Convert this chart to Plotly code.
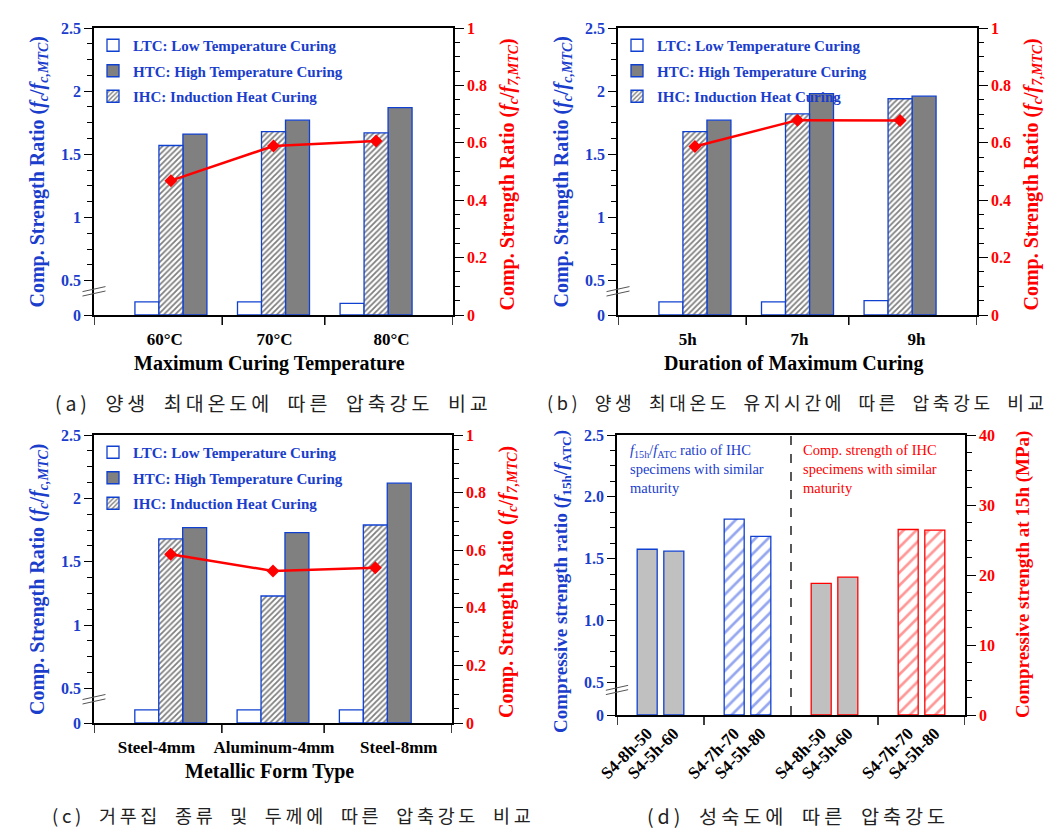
import plotly.graph_objects as go

# ---------------- data ----------------
temp_cats = ["60°C", "70°C", "80°C"]
a_ltc = [0.19, 0.19, 0.17]
a_ihc = [1.57, 1.68, 1.67]
a_htc = [1.66, 1.77, 1.87]
a_ratio = [0.468, 0.589, 0.606]

dur_cats = ["5h", "7h", "9h"]
b_ltc = [0.19, 0.19, 0.21]
b_ihc = [1.68, 1.82, 1.94]
b_htc = [1.77, 1.98, 1.96]
b_ratio = [0.587, 0.679, 0.678]

form_cats = ["Steel-4mm", "Aluminum-4mm", "Steel-8mm"]
c_ltc = [0.19, 0.19, 0.19]
c_ihc = [1.68, 1.23, 1.79]
c_htc = [1.77, 1.73, 2.12]
c_ratio = [0.586, 0.528, 0.539]

d_specimens = ["S4-8h-50", "S4-5h-60", "S4-7h-70", "S4-5h-80"]
d_ratio = [1.576, 1.56, 1.82, 1.68]
d_strength = [18.8, 19.7, 26.5, 26.4]

left_ticks_abc = ["0", "0.5", "1", "1.5", "2", "2.5"]
left_ticks_d = ["0", "0.5", "1.0", "1.5", "2.0", "2.5"]

caption_words = [["(a)", "양생", "최대온도에", "따른", "압축강도", "비교"],
                 ["(b)", "양생", "최대온도", "유지시간에", "따른", "압축강도", "비교"],
                 ["(c)", "거푸집", "종류", "및", "두께에", "따른", "압축강도", "비교"],
                 ["(d)", "성숙도에", "따른", "압축강도"]]

# ---------------- style ----------------
OFF = 8                      # page body margin
W, H = 1059 - OFF, 835 - OFF
SERIF = "Liberation Serif, Times New Roman, serif"
BLUE = "#1a3dcc"
RED = "#ff0000"
BAR_BLUE = "#1040d0"

CH_SP = "\u2009"                   # letter spacing
WD_SP = "\u2002\u2005\u2009"       # word spacing
captions = [WD_SP.join(CH_SP.join(w) for w in ws) for ws in caption_words]
caption_sizes = [19.5, 18.1, 18.5, 19.7]


def px(x):
    return (x - OFF) / W


def py(y):
    return 1 - (y - OFF) / H


def brk(v, L):
    """broken left axis: 0..0.5 compressed into L display units"""
    return v * L / 0.5 if v < 0.5 else L + (v - 0.5)


def dom(r):
    x0, x1, y0, y1 = r
    return [px(x0), px(x1)], [py(y1), py(y0)]


fig = go.Figure()
layout = dict(width=W, height=H, margin=dict(l=0, r=0, t=0, b=0),
              paper_bgcolor="white", plot_bgcolor="white", barmode="overlay",
              showlegend=True)
shapes, annotations = [], []

rects = [(94, 453, 28, 315), (618, 977, 28, 315), (94, 452, 435, 723), (617, 965, 435, 715)]
panels = [
    (temp_cats, a_ltc, a_ihc, a_htc, a_ratio, [0.69, 1.76, 2.9], "Maximum Curing Temperature"),
    (dur_cats, b_ltc, b_ihc, b_htc, b_ratio, [0.68, 1.77, 2.91], "Duration of Maximum Curing"),
    (form_cats, c_ltc, c_ihc, c_htc, c_ratio, [0.61, 1.76, 2.98], "Metallic Form Type"),
]
left_title_x = [38, 562, 38, 562]
right_title_x = [508, 1032, 507, 1023]

tickfont_l = dict(family=SERIF, size=16, color=BLUE, weight="bold")
tickfont_r = dict(family=SERIF, size=16, color=RED, weight="bold")

L = 0.272
groups = [0.75, 1.75, 2.75]
bw = 0.234

for i, (cats, ltc, ihc, htc, ratio, labpos, xtitle) in enumerate(panels):
    n = i + 1
    xa = "x" if n == 1 else f"x{n}"
    yl_i, yr_i = 2 * n - 1, 2 * n
    yl = "y" if yl_i == 1 else f"y{yl_i}"
    yr = f"y{yr_i}"
    leg = "legend" if n == 1 else f"legend{n}"
    xd, yd = dom(rects[i])
    common = dict(xaxis=xa, yaxis=yl, width=bw, legend=leg, hoverinfo="skip")
    fig.add_trace(go.Bar(x=[g - bw for g in groups], y=[brk(v, L) for v in ltc],
                         name="LTC: Low Temperature Curing", legendgroup=f"l{n}",
                         marker=dict(color="white", line=dict(color=BAR_BLUE, width=1.3)), **common))
    fig.add_trace(go.Bar(x=[g + bw for g in groups], y=[brk(v, L) for v in htc],
                         name="HTC: High Temperature Curing", legendgroup=f"h{n}",
                         marker=dict(color="#808080", line=dict(color=BAR_BLUE, width=1.3)), **common))
    fig.add_trace(go.Bar(x=groups, y=[brk(v, L) for v in ihc],
                         name="IHC: Induction Heat Curing", legendgroup=f"i{n}",
                         marker=dict(color="white", line=dict(color=BAR_BLUE, width=1.3),
                                     pattern=dict(shape="/", fgcolor="black", bgcolor="white",
                                                  size=4, solidity=0.45)), **common))
    fig.add_trace(go.Scatter(x=groups, y=ratio, xaxis=xa, yaxis=yr, mode="lines+markers",
                             line=dict(color=RED, width=2.5),
                             marker=dict(symbol="diamond", size=10, color=RED),
                             showlegend=False, hoverinfo="skip"))
    xkey = "xaxis" if n == 1 else f"xaxis{n}"
    ylkey = "yaxis" if yl_i == 1 else f"yaxis{yl_i}"
    yrkey = f"yaxis{yr_i}"
    layout[xkey] = dict(domain=xd, range=[0, 3.5], anchor=yl, showline=True, mirror=True,
                        linecolor="black", linewidth=1.5, showgrid=False, zeroline=False,
                        tickmode="array", tickvals=labpos, ticktext=cats, ticks="",
                        ticklabelstandoff=8, automargin=False,
                        tickfont=dict(family=SERIF, size=17, color="black", weight="bold"))
    layout[ylkey] = dict(domain=yd, range=[0, L + 2.0], anchor=xa, showline=True, mirror=True,
                         linecolor="black", linewidth=1.5, showgrid=False, zeroline=False,
                         tickmode="array", tickvals=[0] + [L + k * 0.5 for k in range(5)],
                         ticktext=left_ticks_abc, ticks="outside", ticklen=8, tickcolor="black",
                         tickwidth=1.2, tickfont=tickfont_l, automargin=False,
                         minor=dict(tickmode="array",
                                    tickvals=[L + k * 0.125 for k in range(17) if k % 4],
                                    ticks="outside", ticklen=5, tickcolor="black", tickwidth=1))
    layout[yrkey] = dict(domain=yd, range=[0, 1], anchor=xa, overlaying=yl, side="right",
                         showline=True, linecolor="black", linewidth=1.5, showgrid=False,
                         zeroline=False, tickmode="linear", tick0=0, dtick=0.2,
                         ticks="outside", ticklen=9, tickcolor="black", tickwidth=1.2,
                         tickfont=tickfont_r, automargin=False,
                         minor=dict(dtick=0.05, ticks="outside", ticklen=5, tickcolor="black",
                                    tickwidth=1))
    layout[leg] = dict(x=px(rects[i][0] - 1), y=py(rects[i][2] + 1),
                       xanchor="left", yanchor="top", bgcolor="rgba(0,0,0,0)",
                       font=dict(family=SERIF, size=15, color=BLUE, weight="bold"),
                       tracegroupgap=3, traceorder="grouped")
    # tick marks at group boundaries
    ph = rects[i][3] - rects[i][2]
    for tx in [0, 1.25, 2.25, 3.5]:
        shapes.append(dict(type="line", xref=xa, yref=f"{yl} domain", x0=tx, x1=tx,
                           y0=0, y1=-10 / ph, line=dict(color="black", width=1.5)))
    # axis break marks
    for dy in [0, -0.035]:
        shapes.append(dict(type="line", xref=f"{xa} domain", yref=yl,
                           x0=-0.032, x1=0.032, y0=0.185 + dy, y1=0.225 + dy,
                           line=dict(color="#555555", width=1)))
    cy = (rects[i][2] + rects[i][3]) / 2
    annotations.append(dict(text="Comp. Strength Ratio (<i>f<sub>c</sub></i>/<i>f<sub>c,MTC</sub></i>)",
                            x=px(left_title_x[i]), y=py(cy), xref="paper", yref="paper",
                            textangle=-90, showarrow=False, xanchor="center", yanchor="middle",
                            font=dict(family=SERIF, size=20, color=BLUE, weight="bold")))
    annotations.append(dict(text="Comp. Strength Ratio (<i>f<sub>c</sub></i>/<i>f<sub>7,MTC</sub></i>)",
                            x=px(right_title_x[i]), y=py(cy + 3), xref="paper", yref="paper",
                            textangle=-90, showarrow=False, xanchor="center", yanchor="middle",
                            font=dict(family=SERIF, size=20, color=RED, weight="bold")))
    annotations.append(dict(text=xtitle, x=px((rects[i][0] + rects[i][1]) / 2 - 4),
                            y=py(rects[i][3] + 48), xref="paper", yref="paper",
                            showarrow=False, xanchor="center", yanchor="middle",
                            font=dict(family=SERIF, size=20, color="black", weight="bold")))

# ---------------- panel d ----------------
Ld = 0.265
xd, yd = dom(rects[3])
dgroups = [0.5, 1.5]
doff = 0.153
dbw = 0.23
x_left = [dgroups[0] - doff, dgroups[0] + doff, dgroups[1] - doff, dgroups[1] + doff]
x_right = [x + 2 for x in x_left]

fig.add_trace(go.Bar(x=x_left[:2], y=[brk(v, Ld) for v in d_ratio[:2]], xaxis="x4", yaxis="y7",
                     width=dbw, showlegend=False, hoverinfo="skip",
                     marker=dict(color="#c0c0c0", line=dict(color=BAR_BLUE, width=1.3))))
fig.add_trace(go.Bar(x=x_left[2:], y=[brk(v, Ld) for v in d_ratio[2:]], xaxis="x4", yaxis="y7",
                     width=dbw, showlegend=False, hoverinfo="skip",
                     marker=dict(color="white", line=dict(color=BAR_BLUE, width=1.3),
                                 pattern=dict(shape="/", fgcolor="#2a4ee0", bgcolor="white",
                                              size=9, solidity=0.3))))
fig.add_trace(go.Bar(x=x_right[:2], y=d_strength[:2], xaxis="x4", yaxis="y8",
                     width=dbw, showlegend=False, hoverinfo="skip",
                     marker=dict(color="#c0c0c0", line=dict(color=RED, width=1.3))))
fig.add_trace(go.Bar(x=x_right[2:], y=d_strength[2:], xaxis="x4", yaxis="y8",
                     width=dbw, showlegend=False, hoverinfo="skip",
                     marker=dict(color="white", line=dict(color=RED, width=1.3),
                                 pattern=dict(shape="/", fgcolor="#ff3030", bgcolor="white",
                                              size=9, solidity=0.3))))

layout["xaxis4"] = dict(domain=xd, range=[0, 4], anchor="y7", showline=True, mirror=True,
                        linecolor="black", linewidth=1.5, showgrid=False, zeroline=False,
                        tickmode="array", tickvals=x_left + x_right,
                        ticktext=d_specimens + d_specimens, ticks="", tickangle=-45,
                        automargin=False,
                        tickfont=dict(family=SERIF, size=17, color="black", weight="bold"))
layout["yaxis7"] = dict(domain=yd, range=[0, Ld + 2.0], anchor="x4", showline=True, mirror=True,
                        linecolor="black", linewidth=1.5, showgrid=False, zeroline=False,
                        tickmode="array", tickvals=[0] + [Ld + k * 0.5 for k in range(5)],
                        ticktext=left_ticks_d, ticks="outside", ticklen=8, tickcolor="black",
                        tickwidth=1.2, tickfont=tickfont_l, automargin=False,
                        minor=dict(tickmode="array",
                                   tickvals=[Ld + k * 0.125 for k in range(17) if k % 4],
                                   ticks="outside", ticklen=5, tickcolor="black", tickwidth=1))
layout["yaxis8"] = dict(domain=yd, range=[0, 40], anchor="x4", overlaying="y7", side="right",
                        showline=True, linecolor="black", linewidth=1.5, showgrid=False,
                        zeroline=False, tickmode="linear", tick0=0, dtick=10,
                        ticks="outside", ticklen=9, tickcolor="black", tickwidth=1.2,
                        tickfont=tickfont_r, automargin=False,
                        minor=dict(dtick=2.5, ticks="outside", ticklen=5, tickcolor="black",
                                   tickwidth=1))
for tx in [0, 1, 3, 4]:
    shapes.append(dict(type="line", xref="x4", yref="y7 domain", x0=tx, x1=tx,
                       y0=0, y1=-10 / 280, line=dict(color="black", width=1.5)))
shapes.append(dict(type="line", xref="x4", yref="y7 domain", x0=2, x1=2, y0=0, y1=1,
                   line=dict(color="black", width=1.3, dash="dash")))
for dy in [0, -0.035]:
    shapes.append(dict(type="line", xref="x4 domain", yref="y7",
                       x0=-0.032, x1=0.032, y0=0.2 + dy, y1=0.24 + dy,
                       line=dict(color="#555555", width=1)))

annotations.append(dict(text="<i>f</i><sub>15h</sub>/<i>f</i><sub>ATC</sub> ratio of IHC<br>specimens with similar<br>maturity",
                        x=px(628), y=py(440), xref="paper", yref="paper", showarrow=False,
                        xanchor="left", yanchor="top", align="left",
                        font=dict(family=SERIF, size=14.5, color=BLUE)))
annotations.append(dict(text="Comp. strength of IHC<br>specimens with similar<br>maturity",
                        x=px(801), y=py(440), xref="paper", yref="paper", showarrow=False,
                        xanchor="left", yanchor="top", align="left",
                        font=dict(family=SERIF, size=14.5, color=RED)))
annotations.append(dict(text="Compressive strength ratio (<i>f</i><sub>15h</sub>/<i>f</i><sub>ATC</sub>)",
                        x=px(562), y=py(582), xref="paper", yref="paper", textangle=-90,
                        showarrow=False, xanchor="center", yanchor="middle",
                        font=dict(family=SERIF, size=19, color=BLUE, weight="bold")))
annotations.append(dict(text="Compressive strength at 15h (MPa)",
                        x=px(1023), y=py(575), xref="paper", yref="paper", textangle=-90,
                        showarrow=False, xanchor="center", yanchor="middle",
                        font=dict(family=SERIF, size=19, color=RED, weight="bold")))

# captions
cap_pos = [(53, 402), (545, 402), (50, 815), (645, 815)]
for txt, (cx, cy), fs in zip(captions, cap_pos, caption_sizes):
    annotations.append(dict(text=txt, x=px(cx), y=py(cy), xref="paper", yref="paper",
                            showarrow=False, xanchor="left", yanchor="middle",
                            font=dict(family="Noto Sans CJK KR", size=fs, color="#222222")))

layout["shapes"] = shapes
layout["annotations"] = annotations
fig.update_layout(**layout)
fig.write_html("out.html")
